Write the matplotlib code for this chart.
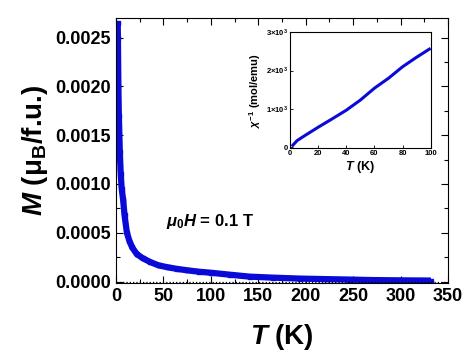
import matplotlib
matplotlib.use('Agg')
import matplotlib.pyplot as plt
from matplotlib.ticker import MultipleLocator, FormatStrFormatter, FixedLocator

# --- datos ---
# M(T) a 0.1 T
temperatura = [1.8, 2.0, 2.5, 3.0, 4.0, 5.0, 6.0, 7.5, 9.0, 11.5, 14, 17, 22, 28, 36,
               45, 55, 64, 75, 88, 100, 120, 141, 165, 194, 220, 246, 270, 300, 332]
momento = [0.00265, 0.0025, 0.0020, 0.0017, 0.00133, 0.00110, 0.00095, 0.00084,
           0.00068, 0.00050, 0.00042, 0.00035, 0.00028, 0.00024, 0.00020, 0.000165,
           0.000145, 0.00013, 0.000115, 0.00010, 0.00009, 0.00007, 0.00005, 0.00004,
           0.00003, 0.000025, 0.00002, 0.000015, 0.000012, 0.00001]

# inversa de la susceptibilidad (inset)
temp_inset = [2, 5, 10, 20, 30, 40, 50, 60, 70, 80, 90, 99]
chi_inv = [50, 170, 290, 520, 740, 965, 1230, 1540, 1800, 2100, 2350, 2560]

ticks_chi = [0, 1000, 2000, 3000]
etiquetas_chi = ['0', r'1$\times$10$^3$', r'2$\times$10$^3$', r'3$\times$10$^3$']

plt.rcParams['font.family'] = 'Liberation Sans'
plt.rcParams['font.weight'] = 'bold'
plt.rcParams['mathtext.fontset'] = 'custom'
plt.rcParams['mathtext.rm'] = 'Liberation Sans:bold'
plt.rcParams['mathtext.it'] = 'Liberation Sans:bold:italic'
plt.rcParams['mathtext.bf'] = 'Liberation Sans:bold'

azul = '#0a0ad8'

fig = plt.figure(figsize=(4.67, 3.56), dpi=100)
ax = fig.add_axes([0.2484, 0.2037, 0.7109, 0.7457])

ax.plot(temperatura, momento, '-', color=azul, lw=4.5, solid_capstyle='butt')
ax.plot(temperatura, momento, 's', color=azul, ms=3)
ax.axhline(0, color='black', ls=':', lw=0.9)

ax.set_xlim(0, 350)
ax.set_ylim(-0.00002, 0.0027)
ax.xaxis.set_major_locator(MultipleLocator(50))
ax.xaxis.set_minor_locator(MultipleLocator(25))
ax.yaxis.set_major_locator(MultipleLocator(0.0005))
ax.yaxis.set_minor_locator(MultipleLocator(0.00025))
ax.yaxis.set_major_formatter(FormatStrFormatter('%.4f'))
ax.tick_params(which='both', direction='in', top=True, right=True, labelsize=13, width=0.8)
ax.tick_params(which='major', length=5)
ax.tick_params(which='minor', length=3)
for lbl in ax.get_xticklabels() + ax.get_yticklabels():
    lbl.set_fontweight('bold')

ax.set_xlabel(r'$T$ (K)', fontsize=20, fontweight='bold', labelpad=12)
ax.set_ylabel(r'$M$ ($\mathrm{\mu_B}$/f.u.)', fontsize=20, fontweight='bold', labelpad=4)
ax.text(52.5, 0.00061, r'$\mu_0H$ = 0.1 T', fontsize=12, fontweight='bold', va='center', ha='left')

# --- inset ---
axi = fig.add_axes([0.621, 0.5834, 0.3013, 0.3259])
axi.plot(temp_inset, chi_inv, '-', color=azul, lw=2.2)
axi.set_xlim(0, 100)
axi.set_ylim(-30, 3000)
axi.xaxis.set_major_locator(MultipleLocator(20))
axi.yaxis.set_major_locator(FixedLocator(ticks_chi))
axi.set_yticklabels(etiquetas_chi)
axi.tick_params(direction='in', labelsize=5.5, length=2.5, width=0.6, pad=1.5)
for lbl in axi.get_xticklabels() + axi.get_yticklabels():
    lbl.set_fontweight('bold')
for s in axi.spines.values():
    s.set_linewidth(0.8)
axi.set_xlabel(r'$T$ (K)', fontsize=9, fontweight='bold', labelpad=1)
axi.set_ylabel(r'$\chi^{-1}$ (mol/emu)', fontsize=8, fontweight='bold', labelpad=2)

fig.savefig('out.png', dpi=100)
